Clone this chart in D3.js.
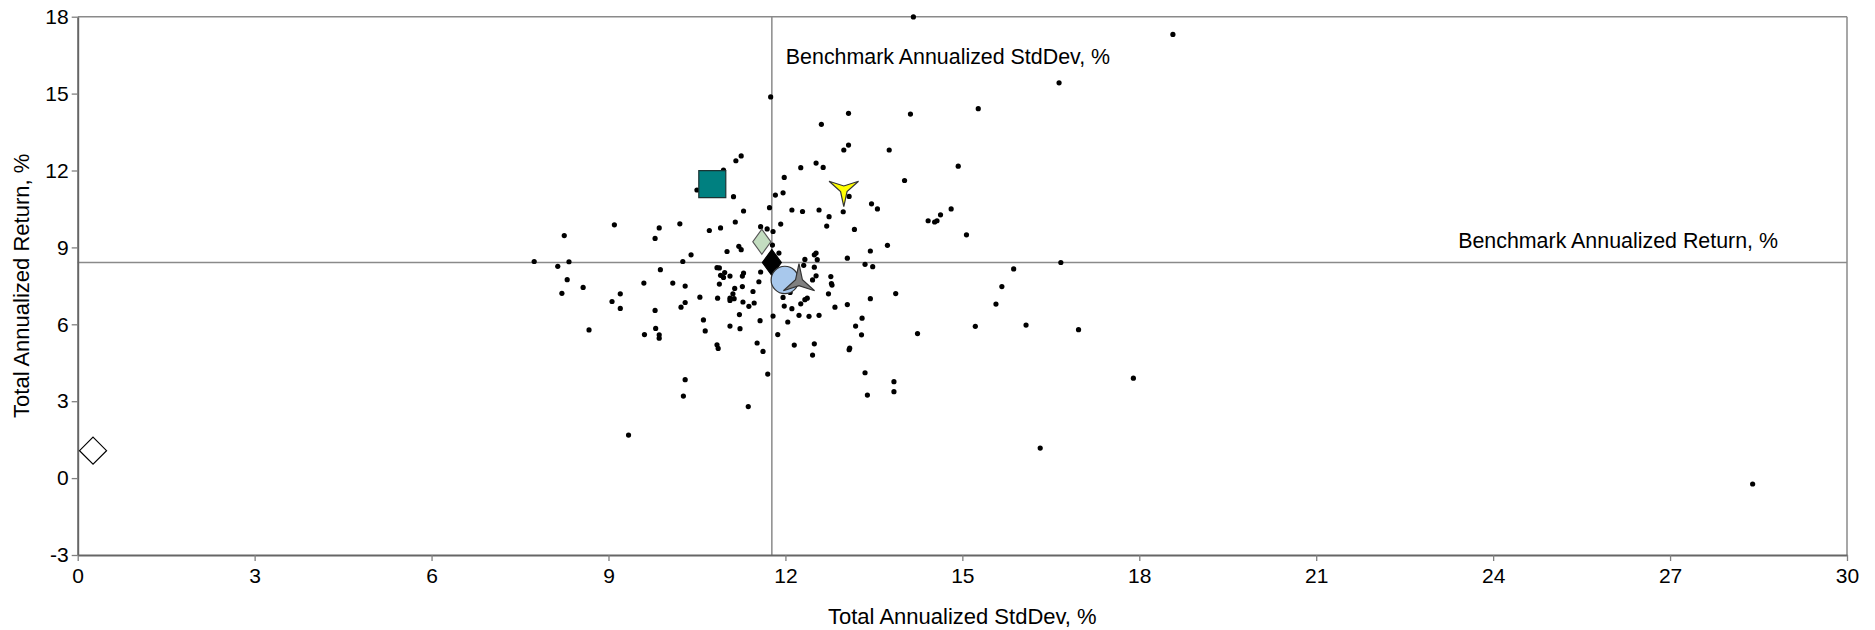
<!DOCTYPE html>
<html>
<head>
<meta charset="utf-8">
<script src="https://cdn.jsdelivr.net/npm/d3@7"></script>
<style>
  html, body { margin: 0; padding: 0; background: #ffffff; }
  svg { display: block; }
  text { font-family: "Liberation Sans", Arial, sans-serif; fill: #000; }
</style>
</head>
<body>
<svg id="chart" width="1875" height="630"></svg>
<script>
// ---------- data ----------
const xTicks = [0, 3, 6, 9, 12, 15, 18, 21, 24, 27, 30];
const yTicks = [-3, 0, 3, 6, 9, 12, 15, 18];
const xTitle = "Total Annualized StdDev, %";
const yTitle = "Total Annualized Return, %";
const benchStdDevLabel = "Benchmark Annualized StdDev, %";
const benchReturnLabel = "Benchmark Annualized Return, %";
const benchStdDev = 11.77;
const benchReturn = 8.41;

// peer universe (std dev, return)
const peerStdDev = [
  11.75,13.07,12.61,13.07,12.99,11.25,11.16,12.52,12.64,12.26,10.95,11.98,10.50,11.96,11.83,11.12,13.08,11.73,11.29,12.11,
  12.29,12.57,12.98,12.74,11.15,11.92,12.70,13.17,10.21,9.86,9.10,10.90,10.71,11.58,11.69,11.79,8.25,9.79,14.17,18.57,
  16.64,15.27,14.12,13.76,14.93,14.02,13.46,13.56,14.42,14.53,14.57,14.63,14.81,15.07,7.74,8.14,8.33,8.30,8.21,8.57,
  8.67,9.06,9.20,9.20,9.34,9.60,9.79,9.80,9.61,9.86,9.86,9.88,10.26,10.40,10.09,10.30,10.30,10.23,10.55,10.61,
  10.64,10.30,10.27,10.84,10.86,11.01,11.21,11.25,10.84,10.88,10.97,10.90,10.95,11.06,10.88,11.29,11.27,11.58,11.55,11.14,
  11.27,11.11,11.45,10.85,11.06,11.06,11.13,11.28,11.38,11.47,11.22,11.06,11.23,11.57,11.52,11.62,11.70,11.37,11.78,11.89,
  11.96,11.98,12.11,11.79,12.04,11.87,12.15,12.46,12.49,12.23,12.40,12.57,12.26,12.33,12.37,12.46,12.52,12.49,12.31,12.33,
  12.49,12.52,12.54,12.77,12.78,12.79,12.73,12.84,13.05,13.19,13.09,13.08,13.05,12.08,13.73,13.44,13.35,13.48,13.44,13.87,
  13.30,13.29,14.24,13.35,13.84,13.84,13.39,15.22,15.57,15.67,15.87,16.08,16.67,16.97,16.32,17.90,28.40
];
const peerReturn = [
  14.87,14.23,13.80,12.99,12.80,12.57,12.38,12.29,12.12,12.11,12.02,11.73,11.24,11.13,11.04,10.98,10.99,10.55,10.42,10.46,
  10.40,10.46,10.39,10.20,9.99,9.91,9.83,9.70,9.92,9.76,9.88,9.76,9.66,9.81,9.72,9.62,9.46,9.35,17.99,17.31,
  15.42,14.41,14.20,12.80,12.17,11.61,10.70,10.50,10.04,9.99,10.04,10.27,10.50,9.49,8.45,8.26,8.44,7.74,7.21,7.44,
  5.78,6.89,7.19,6.62,1.68,7.61,6.54,5.84,5.60,5.59,5.46,8.13,8.45,8.71,7.61,7.49,6.85,6.67,7.06,6.17,
  5.74,3.84,3.20,5.20,5.06,8.84,9.04,8.91,8.21,8.20,8.02,7.91,7.83,7.88,7.57,8.00,7.88,8.04,7.66,7.40,
  7.47,7.19,7.28,7.02,7.02,6.93,7.00,6.87,6.70,6.83,6.38,5.93,5.83,6.14,5.27,4.94,4.06,2.79,9.09,8.78,
  7.05,6.71,6.61,6.32,6.09,5.60,5.19,4.80,5.24,6.35,6.31,6.35,6.80,6.96,7.02,7.73,7.89,8.23,8.30,8.53,
  8.71,8.78,8.52,7.86,7.59,7.53,7.19,6.67,6.77,5.93,5.07,5.01,8.58,7.24,9.08,8.86,8.34,8.25,7.00,7.20,
  6.24,5.59,5.64,4.11,3.76,3.37,3.24,5.92,6.79,7.47,8.16,5.97,8.41,5.79,1.17,3.90,-0.23
];

// highlighted series (std dev, return)
const seriesNames  = ["Cash", "Fund A", "Fund B", "Benchmark", "Fund C", "Fund D", "Fund E"];
const seriesStdDev = [0.26, 10.76, 11.60, 11.77, 11.99, 12.23, 12.99];
const seriesReturn = [1.07, 11.47, 9.22, 8.41, 7.73, 7.66, 11.25];

// ---------- styles ----------
const seriesStyle = [
  { shape: "diamond", w: 13.5, h: 13.5, fill: "#ffffff", stroke: "#000000" },
  { shape: "square",  w: 13.5, h: 13.5, fill: "#008080", stroke: "#1a3333" },
  { shape: "diamond", w: 9,    h: 12.5, fill: "#c3ddc0", stroke: "#555555" },
  { shape: "diamond", w: 9.5,  h: 13,   fill: "#000000", stroke: "#000000" },
  { shape: "circle",  r: 13.7,          fill: "#a8c8ec", stroke: "#333333" },
  { shape: "star3",   r: 18, rot: 0,    fill: "#808080", stroke: "#333333" },
  { shape: "star3",   r: 17, rot: 180,  fill: "#ffff00", stroke: "#333333" }
];

const W = 1875, H = 630;
const margin = { left: 77.7, right: W - 1847, top: 16.7, bottom: H - 555 };
const svg = d3.select("#chart");

const x = d3.scaleLinear().domain([0, 30]).range([margin.left, W - margin.right]);
const y = d3.scaleLinear().domain([-3, 18]).range([H - margin.bottom, margin.top]);

const FS_TICK = 21;
const FS = 22;
const FS_LBL = 21.4;

// frame (top & right)
svg.append("line").attr("x1", x(0)).attr("x2", x(30)).attr("y1", y(18)).attr("y2", y(18))
  .attr("stroke", "#8a8a8a").attr("stroke-width", 1.5);
svg.append("line").attr("x1", x(30)).attr("x2", x(30)).attr("y1", y(18)).attr("y2", y(-3))
  .attr("stroke", "#8a8a8a").attr("stroke-width", 1.5);

// benchmark lines
svg.append("line").attr("x1", x(benchStdDev)).attr("x2", x(benchStdDev)).attr("y1", y(18)).attr("y2", y(-3))
  .attr("stroke", "#8a8a8a").attr("stroke-width", 1.5);
svg.append("line").attr("x1", x(0)).attr("x2", x(30)).attr("y1", y(benchReturn)).attr("y2", y(benchReturn))
  .attr("stroke", "#8a8a8a").attr("stroke-width", 1.5);

// axes
const fmt = d => String(d);
const xAxis = d3.axisBottom(x).tickValues(xTicks).tickSize(6).tickSizeOuter(0).tickPadding(6).tickFormat(fmt);
const yAxis = d3.axisLeft(y).tickValues(yTicks).tickSize(6).tickSizeOuter(0).tickPadding(3).tickFormat(fmt);

const gx = svg.append("g").attr("transform", `translate(0,${y(-3)})`).call(xAxis);
const gy = svg.append("g").attr("transform", `translate(${x(0)},0)`).call(yAxis);
[gx, gy].forEach(g => {
  g.select(".domain").attr("stroke", "#666666").attr("stroke-width", 2);
  g.selectAll(".tick line").attr("stroke", "#808080").attr("stroke-width", 1.3);
  g.selectAll(".tick text").attr("font-size", FS_TICK).attr("font-family", "Liberation Sans, Arial, sans-serif").attr("fill", "#000");
});
gx.selectAll(".tick text").attr("dy", "0.78em");

// axis titles
svg.append("text").attr("x", (x(0) + x(30)) / 2).attr("y", 624)
  .attr("text-anchor", "middle").attr("font-size", FS).text(xTitle);
svg.append("text")
  .attr("transform", `translate(29,${(y(18) + y(-3)) / 2}) rotate(-90)`)
  .attr("text-anchor", "middle").attr("font-size", FS).text(yTitle);

// benchmark labels
svg.append("text").attr("x", x(benchStdDev) + 14).attr("y", y(18) + 47)
  .attr("font-size", FS_LBL).text(benchStdDevLabel);
svg.append("text").attr("x", x(30) - 69).attr("y", y(benchReturn) - 15)
  .attr("text-anchor", "end").attr("font-size", FS_LBL).text(benchReturnLabel);

// peer dots
svg.append("g").selectAll("circle").data(peerStdDev.map((v, i) => [v, peerReturn[i]]))
  .join("circle")
  .attr("cx", d => x(d[0])).attr("cy", d => y(d[1])).attr("r", 2.6).attr("fill", "#000");

// highlighted markers
function star3Path(r, rot) {
  const inner = r * 0.22;
  const p = d3.path();
  for (let k = 0; k < 6; k++) {
    const ang = (-90 + rot + k * 60) * Math.PI / 180;
    const rr = k % 2 === 0 ? r : inner;
    const px = rr * Math.cos(ang), py = rr * Math.sin(ang);
    if (k === 0) p.moveTo(px, py); else p.lineTo(px, py);
  }
  p.closePath();
  return p.toString();
}
function markerPath(s) {
  if (s.shape === "diamond") return `M0,${-s.h}L${s.w},0L0,${s.h}L${-s.w},0Z`;
  if (s.shape === "square") return `M${-s.w},${-s.h}H${s.w}V${s.h}H${-s.w}Z`;
  if (s.shape === "star3") return star3Path(s.r, s.rot);
  return null;
}
const mg = svg.append("g");
seriesNames.forEach((name, i) => {
  const s = seriesStyle[i];
  const cx = x(seriesStdDev[i]), cy = y(seriesReturn[i]);
  if (s.shape === "circle") {
    mg.append("circle").attr("cx", cx).attr("cy", cy).attr("r", s.r)
      .attr("fill", s.fill).attr("stroke", s.stroke).attr("stroke-width", 1.2);
  } else {
    mg.append("path").attr("d", markerPath(s)).attr("transform", `translate(${cx},${cy})`)
      .attr("fill", s.fill).attr("stroke", s.stroke).attr("stroke-width", 1.2)
      .attr("stroke-linejoin", "miter");
  }
});
</script>
</body>
</html>
